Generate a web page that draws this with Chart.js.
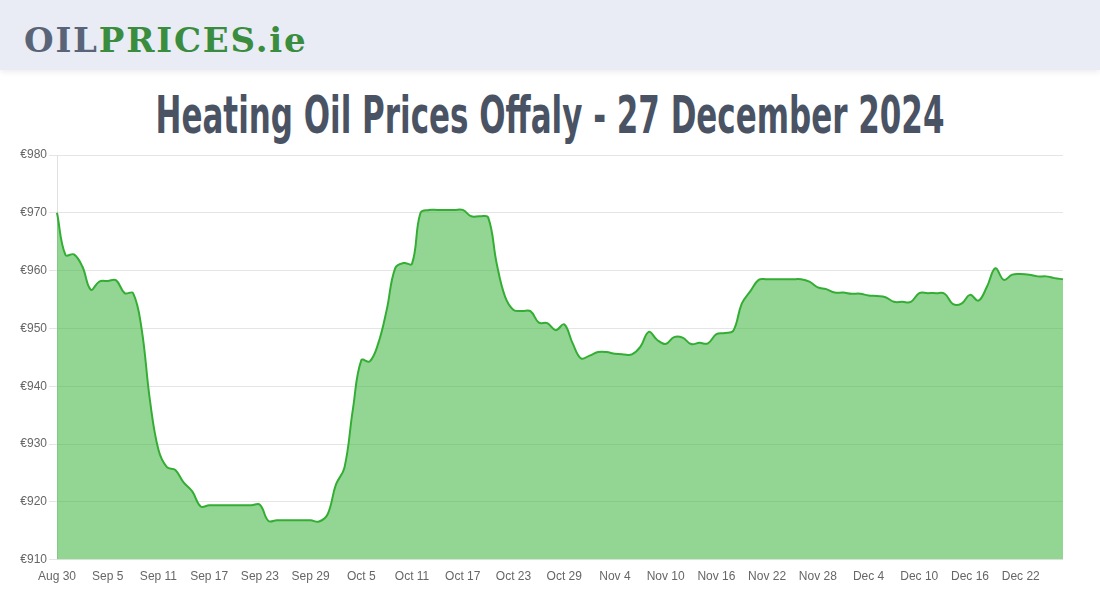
<!DOCTYPE html>
<html lang="en">
<head>
  <meta charset="UTF-8" />
  <title>Heating Oil Prices Offaly</title>
  <script src="https://cdn.jsdelivr.net/npm/chart.js"></script>
  <style>
    body {
      margin: 0;
      width: 1100px;
      height: 600px;
      overflow: hidden;
      background: #fff;
      font-family: Arial, "Liberation Sans", sans-serif;
    }
    #header {
      height: 70px;
      background: #e9ecf4;
      box-shadow: 0 2px 6px rgba(0, 0, 0, 0.08);
      position: relative;
    }
    #logo {
      position: absolute;
      left: 24px;
      top: 23px;
      font-family: "DejaVu Serif", serif;
      font-weight: bold;
      font-size: 34px;
      line-height: 1;
      letter-spacing: 1.8px;
    }
    #logo .oil { color: #5a6479; }
    #logo .pr { color: #3a8d3e; }
    #title {
      position: absolute;
      left: 550px;
      top: 90px;
      white-space: nowrap;
      font-family: "DejaVu Sans", sans-serif;
      font-stretch: condensed;
      font-weight: bold;
      font-size: 51px;
      line-height: 1;
      color: #4a5363;
      transform-origin: center;
      transform: translateX(-50%) scaleX(0.675);
    }
    #wrap {
      position: absolute;
      left: 0;
      top: 145px;
      width: 1100px;
      height: 455px;
    }
  </style>
</head>
<body>
  <div id="header">
    <div id="logo"><span class="oil">OIL</span><span class="pr">PRICES.ie</span></div>
  </div>
  <div id="title">Heating Oil Prices Offaly - 27 December 2024</div>
  <div id="wrap"><canvas id="priceChart"></canvas></div>

  <script>
    // daily prices, Aug 30 - Dec 27 2024
    const startDate = new Date(2024, 7, 30);
    const dayCount = 120;
    const months = ["Jan", "Feb", "Mar", "Apr", "May", "Jun", "Jul", "Aug", "Sep", "Oct", "Nov", "Dec"];
    const labels = [];
    for (let i = 0; i < dayCount; i++) {
      const d = new Date(startDate.getFullYear(), startDate.getMonth(), startDate.getDate() + i);
      labels.push(months[d.getMonth()] + " " + d.getDate());
    }

    const prices = [
      970.0, 962.7, 962.8, 960.7, 956.7, 958.1, 958.2, 958.3, 956.1, 956.1,
      950.0, 937.5, 929.0, 926.0, 925.5, 923.3, 921.8, 919.2, 919.4, 919.4,
      919.4, 919.4, 919.4, 919.4, 919.5, 916.7, 916.8, 916.8, 916.8, 916.8,
      916.8, 916.6, 917.8, 923.0, 925.9, 936.0, 944.5, 944.3, 947.4, 953.2,
      960.4, 961.3, 961.2, 970.0, 970.5, 970.5, 970.5, 970.5, 970.5, 969.4,
      969.4, 969.2, 961.3, 955.5, 953.2, 953.0, 953.0, 951.0, 950.9, 949.7,
      950.7, 947.4, 944.8, 945.3, 945.9, 945.9, 945.6, 945.5, 945.5, 946.8,
      949.4, 948.0, 947.3, 948.5, 948.4, 947.3, 947.5, 947.4, 949.0, 949.2,
      949.6, 954.3, 956.4, 958.4, 958.5, 958.5, 958.5, 958.5, 958.5, 958.1,
      957.1, 956.8, 956.2, 956.2, 956.0, 956.0, 955.7, 955.6, 955.4, 954.6,
      954.6, 954.6, 956.1, 956.1, 956.1, 956.0, 954.2, 954.3, 955.8, 954.8,
      957.2, 960.4, 958.4, 959.3, 959.4, 959.3, 959.0, 959.0, 958.7, 958.5
    ];

    const yMin = 910;
    const yMax = 980;
    const yStep = 10;
    const labelEvery = 6;

    const ctx = document.getElementById("priceChart").getContext("2d");
    new Chart(ctx, {
      type: "line",
      data: {
        labels: labels,
        datasets: [
          {
            label: "Price",
            data: prices,
            borderColor: "#34ad34",
            backgroundColor: "rgba(58, 181, 58, 0.55)",
            borderWidth: 2,
            pointRadius: 0,
            tension: 0.4,
            fill: true,
          },
        ],
      },
      options: {
        responsive: true,
        maintainAspectRatio: false,
        animation: false,
        layout: { padding: { top: 10, right: 37, bottom: 14, left: 0 } },
        plugins: {
          legend: { display: false },
          tooltip: { enabled: false },
        },
        scales: {
          x: {
            grid: { display: false },
            border: { display: false },
            ticks: {
              autoSkip: false,
              maxRotation: 0,
              padding: 2,
              color: "#666",
              font: { family: "Arial, 'Liberation Sans'", size: 12 },
              callback: function (value, index) {
                return index % labelEvery === 0 ? this.getLabelForValue(value) : "";
              },
            },
          },
          y: {
            min: yMin,
            max: yMax,
            afterFit: function (scale) {
              scale.width = 57;
            },
            grid: { color: "rgba(0,0,0,0.1)", tickLength: 8 },
            border: { color: "rgba(0,0,0,0.12)" },
            ticks: {
              stepSize: yStep,
              color: "#666",
              padding: 2,
              font: { family: "Arial, 'Liberation Sans'", size: 12 },
              callback: function (value) {
                return "€" + value;
              },
            },
          },
        },
      },
    });
  </script>
</body>
</html>
